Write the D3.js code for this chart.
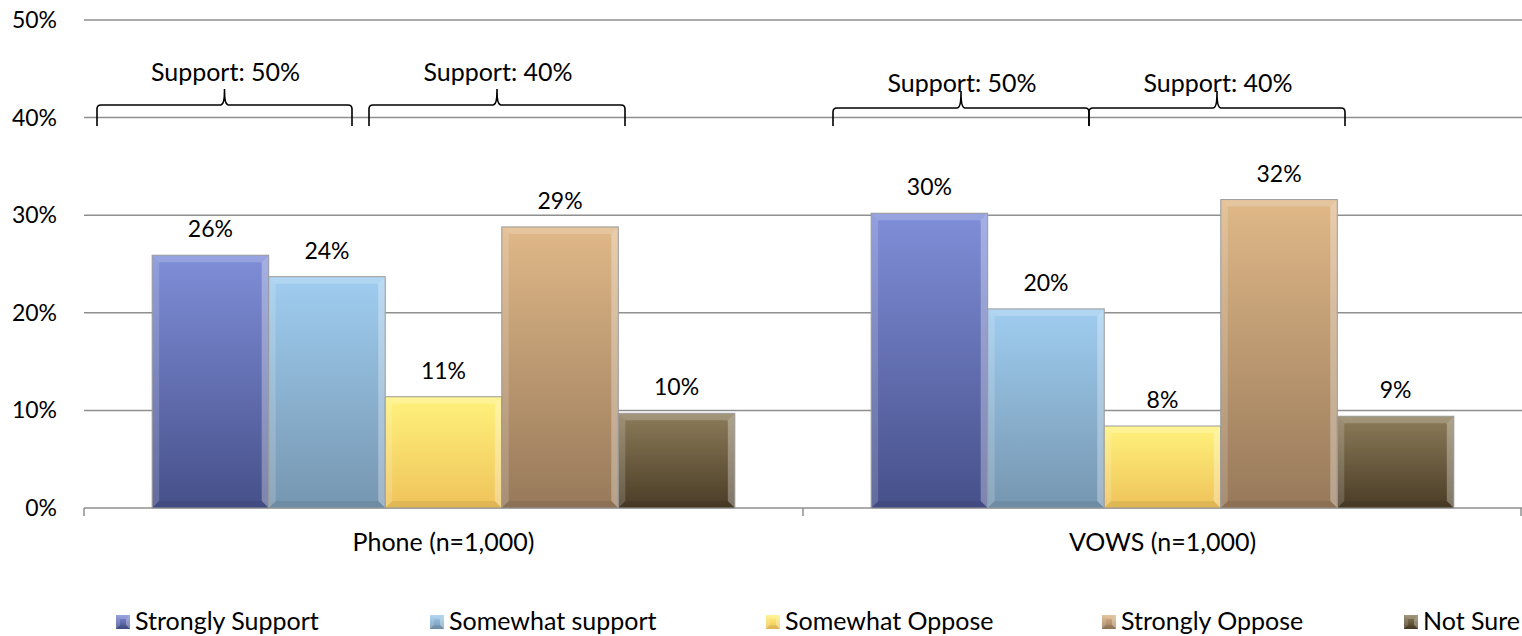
<!DOCTYPE html>
<html>
<head>
<meta charset="utf-8">
<script src="https://cdn.jsdelivr.net/npm/d3@7"></script>
<style>
  html, body { margin: 0; padding: 0; background: #fff; }
  svg { display: block; }
  text { font-family: Lato, "Open Sans", sans-serif; fill: #000; }
</style>
</head>
<body>
<svg id="chart" width="1522" height="636"></svg>
<script>
// ---- data ----
const categories = ["Phone (n=1,000)", "VOWS (n=1,000)"];
const seriesNames = ["Strongly Support", "Somewhat support", "Somewhat Oppose", "Strongly Oppose", "Not Sure"];
const phoneValues = [0.259, 0.237, 0.114, 0.288, 0.097];
const vowsValues  = [0.302, 0.204, 0.084, 0.316, 0.094];
const yTicks = [0, 0.1, 0.2, 0.3, 0.4, 0.5];
const braceLabels = ["Support: 50%", "Support: 40%", "Support: 50%", "Support: 40%"];

// ---- styles ----
const FS = 25;   // text labels
const FN = 23;   // numeric labels
const seriesColors = [
  ["#7f8ed8", "#46508a"],
  ["#9fcdf0", "#7696b0"],
  ["#fff27c", "#efc35a"],
  ["#e0b888", "#97795a"],
  ["#8c7c5a", "#4a3c26"]
];

const svg = d3.select("#chart");
const plotLeft = 84, plotRight = 1522, plotTop = 20, plotBottom = 508;

const y = d3.scaleLinear().domain([0, 0.5]).range([plotBottom, plotTop]);
const x0 = d3.scaleBand().domain(categories).range([plotLeft, plotRight]).paddingInner(0).paddingOuter(0);
const x1 = d3.scaleBand().domain(seriesNames).range([0, x0.bandwidth()]).paddingInner(0).paddingOuter(0.585);

const values = { [categories[0]]: phoneValues, [categories[1]]: vowsValues };

// gradients
const defs = svg.append("defs");
seriesColors.forEach((c, i) => {
  const g = defs.append("linearGradient").attr("id", "g" + i)
    .attr("x1", 0).attr("y1", 0).attr("x2", 0).attr("y2", 1);
  g.append("stop").attr("offset", "0%").attr("stop-color", c[0]);
  g.append("stop").attr("offset", "100%").attr("stop-color", c[1]);
});

// gridlines
svg.append("g").selectAll("line").data(yTicks.filter(d => d > 0)).join("line")
  .attr("x1", plotLeft).attr("x2", plotRight)
  .attr("y1", d => y(d)).attr("y2", d => y(d))
  .attr("stroke", "#8f8f8f").attr("stroke-width", 1.5);

// y axis labels
const fmt = d3.format(".0%");
svg.append("g").selectAll("text").data(yTicks).join("text")
  .attr("x", 57).attr("y", d => y(d) + 8)
  .attr("text-anchor", "end").attr("font-size", FN)
  .text(d => fmt(d));

// x axis
const ax = svg.append("g");
ax.append("line").attr("x1", plotLeft).attr("x2", plotRight).attr("y1", plotBottom).attr("y2", plotBottom)
  .attr("stroke", "#8f8f8f").attr("stroke-width", 1.5);
const tickXs = categories.map(c => x0(c)).concat([plotRight - 1]);
ax.selectAll("line.t").data(tickXs).join("line").attr("class", "t")
  .attr("x1", d => d).attr("x2", d => d).attr("y1", plotBottom).attr("y2", plotBottom + 8)
  .attr("stroke", "#8f8f8f").attr("stroke-width", 1.5);
ax.selectAll("text").data(categories).join("text")
  .attr("x", d => x0(d) + x0.bandwidth() / 2)
  .attr("y", 551).attr("text-anchor", "middle").attr("font-size", FS)
  .text(d => d);

// bars with bevel
function bevel(g, bx0, by0, bx1, by1, b) {
  const poly = (pts, fill, op) => g.append("polygon")
    .attr("points", pts.map(p => p.join(",")).join(" "))
    .attr("fill", fill).attr("fill-opacity", op);
  poly([[bx0, by0], [bx1, by0], [bx1 - b, by0 + b], [bx0 + b, by0 + b]], "#fff", 0.2);
  poly([[bx0, by0], [bx0 + b, by0 + b], [bx0 + b, by1 - b], [bx0, by1]], "#fff", 0.16);
  poly([[bx1, by0], [bx1, by1], [bx1 - b, by1 - b], [bx1 - b, by0 + b]], "#fff", 0.3);
  poly([[bx0, by1], [bx0 + b, by1 - b], [bx1 - b, by1 - b], [bx1, by1]], "#000", 0.07);
}

categories.forEach(cat => {
  const g = svg.append("g");
  values[cat].forEach((v, i) => {
    const bx0 = x0(cat) + x1(seriesNames[i]);
    const bw = x1.bandwidth();
    const by0 = y(v);
    const bg = g.append("g");
    bg.append("rect").attr("x", bx0).attr("y", by0).attr("width", bw).attr("height", y(0) - by0)
      .attr("fill", "url(#g" + i + ")");
    bevel(bg, bx0, by0, bx0 + bw, y(0), 7);
    bg.append("rect").attr("x", bx0).attr("y", by0).attr("width", bw).attr("height", y(0) - by0)
      .attr("fill", "none").attr("stroke", "#9a9a9a").attr("stroke-width", 1);
    g.append("text").attr("x", bx0 + bw / 2).attr("y", by0 - 18)
      .attr("text-anchor", "middle").attr("font-size", FN)
      .text(fmt(Math.round(v * 100) / 100));
  });
});

// braces (annotations) — offsets relative to category start
const braceSpans = [
  { cat: 0, a: 13, b: 268, yLine: 105, tip: 89, yEnd: 126, ty: 81 },
  { cat: 0, a: 285, b: 541, yLine: 105, tip: 89, yEnd: 126, ty: 81 },
  { cat: 1, a: 30, b: 286, yLine: 108, tip: 91, yEnd: 126, ty: 92 },
  { cat: 1, a: 286, b: 542, yLine: 108, tip: 91, yEnd: 126, ty: 92 }
];
const bg2 = svg.append("g");
braceSpans.forEach((s, i) => {
  const xa = x0(categories[s.cat]) + s.a, xb = x0(categories[s.cat]) + s.b;
  const xm = (xa + xb) / 2, r = 4;
  const p = d3.path();
  p.moveTo(xa, s.yEnd);
  p.lineTo(xa, s.yLine + r);
  p.quadraticCurveTo(xa, s.yLine, xa + r, s.yLine);
  p.lineTo(xm - r, s.yLine);
  p.quadraticCurveTo(xm, s.yLine, xm, s.tip + 2);
  p.lineTo(xm, s.tip);
  p.moveTo(xm, s.tip + 2);
  p.quadraticCurveTo(xm, s.yLine, xm + r, s.yLine);
  p.lineTo(xb - r, s.yLine);
  p.quadraticCurveTo(xb, s.yLine, xb, s.yLine + r);
  p.lineTo(xb, s.yEnd);
  bg2.append("path").attr("d", p.toString()).attr("fill", "none")
    .attr("stroke", "#000").attr("stroke-width", 1.6);
  bg2.append("text").attr("x", xm + 1).attr("y", s.ty)
    .attr("text-anchor", "middle").attr("font-size", FS).text(braceLabels[i]);
});

// legend
const legendX = [116, 430, 766, 1102, 1404];
const lg = svg.append("g");
seriesNames.forEach((name, i) => {
  const lx = legendX[i], ly = 615;
  const sg = lg.append("g");
  sg.append("rect").attr("x", lx).attr("y", ly).attr("width", 14).attr("height", 14)
    .attr("fill", "url(#g" + i + ")");
  bevel(sg, lx, ly, lx + 14, ly + 14, 4);
  lg.append("text").attr("x", lx + 19).attr("y", 630).attr("font-size", FS).text(name);
});
</script>
</body>
</html>
